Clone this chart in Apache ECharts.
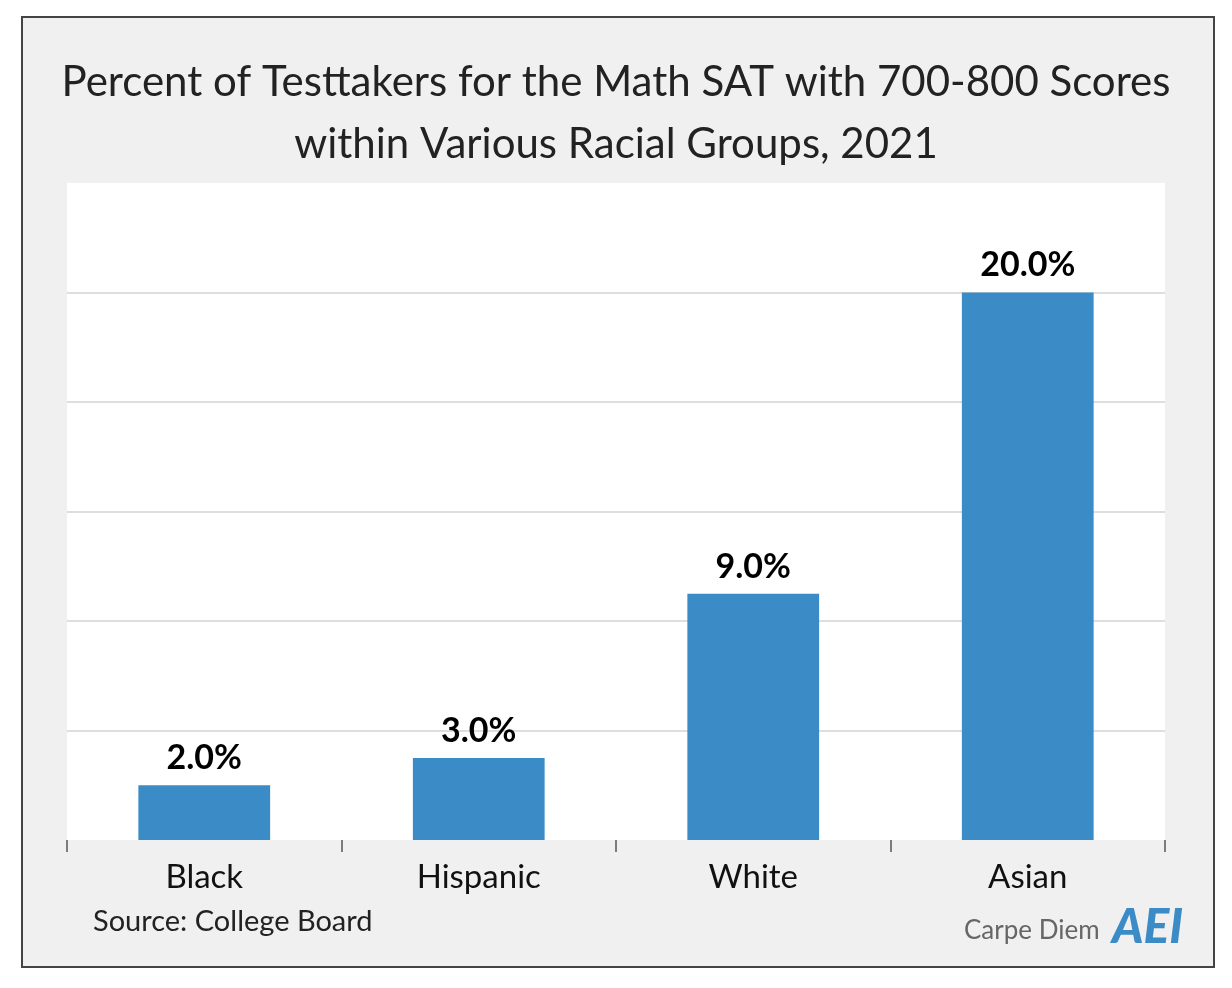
<!DOCTYPE html>
<html>
<head>
<meta charset="utf-8">
<script src="https://cdn.jsdelivr.net/npm/echarts@6/dist/echarts.min.js"></script>
<style>
  html, body { margin: 0; padding: 0; background: #fff; }
  #chart { width: 1232px; height: 988px; }
</style>
</head>
<body>
<div id="chart"></div>
<script>
var groups = ['Black', 'Hispanic', 'White', 'Asian'];
var shares = [2.0, 3.0, 9.0, 20.0];
var yMax = 24;
var yStep = 4;

var font = 'Lato, "Open Sans", sans-serif';
var chart = echarts.init(document.getElementById('chart'));

var option = {
  backgroundColor: '#ffffff',
  animation: false,
  title: {
    text: 'Percent of Testtakers for the Math SAT with 700-800 Scores\nwithin Various Racial Groups, 2021',
    left: 'center',
    top: 46,
    textStyle: {
      fontFamily: font,
      fontSize: 42,
      fontWeight: 'normal',
      color: '#222',
      lineHeight: 62
    }
  },
  grid: {
    left: 67,
    right: 67,
    top: 183,
    bottom: 148,
    show: true,
    backgroundColor: '#ffffff',
    borderWidth: 0
  },
  xAxis: {
    type: 'category',
    data: groups,
    axisLine: { show: false },
    axisTick: { show: true, length: 12, lineStyle: { color: '#555', width: 1.5 } },
    axisLabel: { fontFamily: font, fontSize: 33, color: '#111', margin: 21 }
  },
  yAxis: {
    type: 'value',
    min: 0,
    max: yMax,
    interval: yStep,
    axisLine: { show: false },
    axisTick: { show: false },
    axisLabel: { show: false },
    splitLine: {
      show: true,
      showMinLine: false,
      showMaxLine: false,
      lineStyle: { color: '#dedede', width: 2 }
    }
  },
  series: [{
    type: 'bar',
    data: shares,
    barWidth: '48%',
    itemStyle: { color: '#3b8bc6' },
    label: {
      show: true,
      position: 'top',
      distance: 10,
      fontFamily: font,
      fontSize: 34,
      fontWeight: 'bold',
      color: '#000',
      formatter: function (p) { return p.value.toFixed(1) + '%'; }
    }
  }],
  graphic: [
    {
      type: 'rect',
      z: -10,
      shape: { x: 22, y: 17, width: 1192, height: 950 },
      style: { fill: '#f0f0f0', stroke: '#444', lineWidth: 2 }
    },
    {
      type: 'text',
      left: 93,
      top: 907,
      style: { text: 'Source: College Board', fontFamily: font, fontSize: 29, fill: '#222' }
    },
    {
      type: 'text',
      left: 964,
      top: 918,
      style: { text: 'Carpe Diem', fontFamily: font, fontSize: 26, fill: '#666' }
    },
    {
      type: 'text',
      left: 1112,
      top: 904,
      style: { text: 'AEI', fontFamily: font, fontSize: 48, fontWeight: 900, fontStyle: 'italic', fill: '#3b8bc6' }
    }
  ]
};

chart.setOption(option);
</script>
</body>
</html>
